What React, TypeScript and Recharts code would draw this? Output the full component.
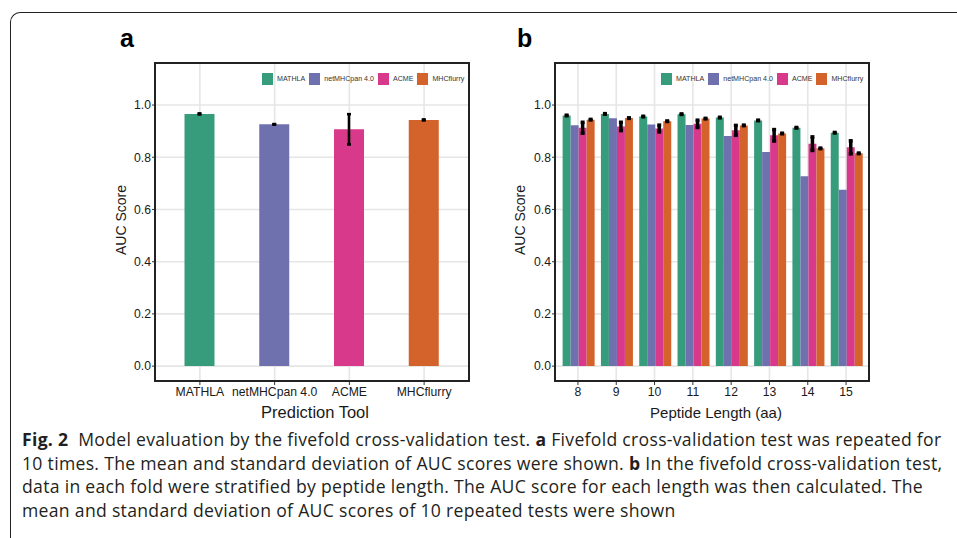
import React from 'react';
import { BarChart, Bar, XAxis, YAxis, CartesianGrid, ErrorBar, Cell } from 'recharts';

// panel a: overall AUC per tool
const tools = ['MATHLA', 'netMHCpan 4.0', 'ACME', 'MHCflurry'];
const toolAuc = [0.966, 0.926, 0.907, 0.943];
const toolSd = [0.002, 0.001, 0.058, 0.002];

// panel b: AUC per peptide length
const lengths = ['8', '9', '10', '11', '12', '13', '14', '15'];
const mathlaAuc = [0.96, 0.966, 0.956, 0.965, 0.952, 0.941, 0.913, 0.894];
const mathlaSd = [0.002, 0.002, 0.002, 0.002, 0.002, 0.002, 0.002, 0.002];
const netmhcAuc = [0.923, 0.949, 0.925, 0.924, 0.881, 0.82, 0.727, 0.676];
const acmeAuc = [0.913, 0.918, 0.91, 0.928, 0.903, 0.884, 0.852, 0.838];
const acmeSd = [0.021, 0.016, 0.013, 0.014, 0.019, 0.022, 0.026, 0.025];
const mhcflurryAuc = [0.944, 0.95, 0.938, 0.948, 0.922, 0.891, 0.834, 0.815];
const mhcflurrySd = [0.002, 0.002, 0.002, 0.002, 0.002, 0.002, 0.002, 0.002];

const yTicks = [0, 0.2, 0.4, 0.6, 0.8, 1.0];
const colors = ['#379C7B', '#6F70AE', '#D8398A', '#D4622B'];

const dataA = tools.map((t, i) => ({ tool: t, auc: toolAuc[i], sd: toolSd[i] }));
const dataB = lengths.map((l, i) => ({
  len: l,
  mathla: mathlaAuc[i],
  mathlaSd: mathlaSd[i],
  netmhc: netmhcAuc[i],
  acme: acmeAuc[i],
  acmeSd: acmeSd[i],
  mhcflurry: mhcflurryAuc[i],
  mhcflurrySd: mhcflurrySd[i],
}));

const sans = '"Liberation Sans", Arial, sans-serif';
const W = 480;
const H = 430;
const margin = { top: 63, right: 11, bottom: 19, left: 115 };
const tickStyle = { fill: '#1a1a1a', fontSize: 12.2, fontFamily: sans };

const Legend = ({ left }: { left: number }) => (
  <div style={{ position: 'absolute', left, top: 73, display: 'flex', alignItems: 'center', fontFamily: sans, fontSize: 7.1, color: '#333' }}>
    {tools.map((t, i) => (
      <div key={t} style={{ display: 'flex', alignItems: 'center', marginRight: 4 }}>
        <div style={{ width: 11, height: 12, background: colors[i], marginRight: 4 }} />
        <span>{t}</span>
      </div>
    ))}
  </div>
);

const Frame = ({ left }: { left: number }) => (
  <div style={{ position: 'absolute', left: left - 1, top: 62, width: 316, height: 320, border: '2px solid #222', boxSizing: 'border-box', pointerEvents: 'none' }} />
);

const Title = ({ text, x, y, size, rotate }: { text: string; x: number; y: number; size: number; rotate?: boolean }) => (
  <div style={{ position: 'absolute', left: x, top: y, transform: `translate(-50%, -50%)${rotate ? ' rotate(-90deg)' : ''}`, fontFamily: sans, fontSize: size, color: '#1a1a1a', whiteSpace: 'nowrap' }}>
    {text}
  </div>
);

const PanelA = () => (
  <BarChart width={W} height={H} data={dataA} margin={margin}>
    <CartesianGrid stroke="#E6E6E6" strokeWidth={1.6} />
    <XAxis dataKey="tool" height={30} padding={{ left: 7.5, right: 7.5 }} tick={tickStyle} tickSize={4} tickMargin={2} axisLine={false} tickLine={{ stroke: '#333' }} interval={0} />
    <YAxis width={40} type="number" domain={[-0.057, 1.161]} ticks={yTicks} tickFormatter={(v) => v.toFixed(1)} tick={tickStyle} tickSize={3} tickMargin={1} axisLine={false} tickLine={{ stroke: '#333' }} allowDataOverflow />
    <Bar dataKey="auc" barSize={30} isAnimationActive={false}>
      {dataA.map((d, i) => (
        <Cell key={d.tool} fill={colors[i]} />
      ))}
      <ErrorBar dataKey="sd" width={2} strokeWidth={2.6} stroke="#000" direction="y" />
    </Bar>
  </BarChart>
);

const PanelB = () => (
  <BarChart width={W} height={H} data={dataB} margin={margin} barCategoryGap="10%" barGap={0}>
    <CartesianGrid stroke="#E6E6E6" strokeWidth={1.6} />
    <XAxis dataKey="len" height={30} padding={{ left: 3.8, right: 3.8 }} tick={tickStyle} tickSize={4} tickMargin={2} axisLine={false} tickLine={{ stroke: '#333' }} interval={0} />
    <YAxis width={40} type="number" domain={[-0.057, 1.161]} ticks={yTicks} tickFormatter={(v) => v.toFixed(1)} tick={tickStyle} tickSize={3} tickMargin={1} axisLine={false} tickLine={{ stroke: '#333' }} allowDataOverflow />
    <Bar dataKey="mathla" fill={colors[0]} isAnimationActive={false}>
      <ErrorBar dataKey="mathlaSd" width={2} strokeWidth={3} stroke="#000" direction="y" />
    </Bar>
    <Bar dataKey="netmhc" fill={colors[1]} isAnimationActive={false} />
    <Bar dataKey="acme" fill={colors[2]} isAnimationActive={false}>
      <ErrorBar dataKey="acmeSd" width={2} strokeWidth={3.5} stroke="#000" direction="y" />
    </Bar>
    <Bar dataKey="mhcflurry" fill={colors[3]} isAnimationActive={false}>
      <ErrorBar dataKey="mhcflurrySd" width={2} strokeWidth={3} stroke="#000" direction="y" />
    </Bar>
  </BarChart>
);

const captionStyle: React.CSSProperties = {
  position: 'absolute',
  left: 22,
  top: 428,
  fontFamily: '"Open Sans", sans-serif',
  fontSize: 17.6,
  letterSpacing: 0.3,
  lineHeight: '23.7px',
  color: '#231F20',
  whiteSpace: 'nowrap',
};

export default function App() {
  return (
    <div style={{ position: 'absolute', left: 0, top: 0, width: 957, height: 538, overflow: 'hidden', background: '#fff' }}>
      <div style={{ position: 'absolute', left: 10, top: 12, width: 1000, height: 600, borderTop: '1.5px solid #222', borderLeft: '1.5px solid #222', borderTopLeftRadius: 10 }} />
      <div style={{ position: 'absolute', left: 0, top: 0 }}>
        <PanelA />
      </div>
      <div style={{ position: 'absolute', left: 400, top: 0 }}>
        <PanelB />
      </div>
      <Frame left={155} />
      <Frame left={555} />
      <Legend left={262} />
      <Legend left={661} />
      <div style={{ position: 'absolute', left: 120, top: 24, fontFamily: sans, fontWeight: 'bold', fontSize: 25, color: '#000' }}>a</div>
      <div style={{ position: 'absolute', left: 517, top: 24, fontFamily: sans, fontWeight: 'bold', fontSize: 25, color: '#000' }}>b</div>
      <Title text="AUC Score" x={121} y={220} size={14} rotate />
      <Title text="AUC Score" x={520} y={220} size={14} rotate />
      <Title text="Prediction Tool" x={315} y={412} size={16.5} />
      <Title text="Peptide Length (aa)" x={716} y={412} size={15} />
      <div style={captionStyle}>
        <div><b>Fig. 2</b>&nbsp; Model evaluation by the fivefold cross-validation test. <b>a</b> Fivefold cross-validation test was repeated for</div>
        <div>10 times. The mean and standard deviation of AUC scores were shown. <b>b</b> In the fivefold cross-validation test,</div>
        <div>data in each fold were stratified by peptide length. The AUC score for each length was then calculated. The</div>
        <div>mean and standard deviation of AUC scores of 10 repeated tests were shown</div>
      </div>
    </div>
  );
}
